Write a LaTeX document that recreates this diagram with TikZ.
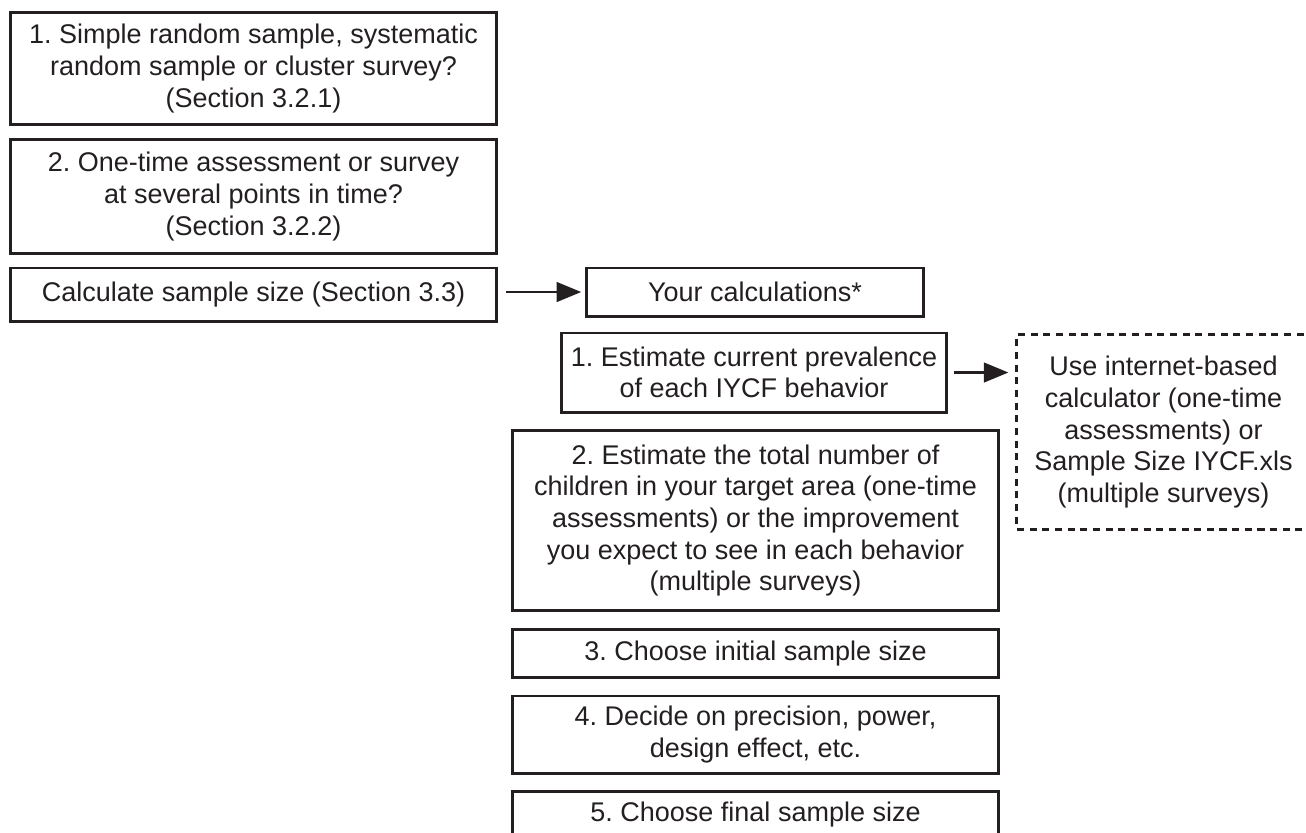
\documentclass[tikz,border=0pt]{standalone}
\usepackage{fontspec}
\setmainfont{Liberation Sans}
\usetikzlibrary{arrows.meta}

\definecolor{ink}{HTML}{231F20}

\tikzset{
	box/.style={draw=ink, line width=0.85pt, rectangle, inner sep=0pt, align=center,
		text=ink, font=\fontsize{7.68pt}{8.96pt}\selectfont\frenchspacing},
	dashbox/.style={box, dash pattern=on 2pt off 1.6pt},
	arr/.style={draw=ink, line width=0.7pt, -{Triangle[length=7pt, width=5.6pt]}}
}

\begin{document}
\begin{tikzpicture}[x=0.01cm, y=-0.01cm]
			\useasboundingbox (0,0) rectangle (1306,832);
			\clip (0,0) rectangle (1306,832);
			
			% left column
			\node[box, minimum width=48.5mm, minimum height=11.1mm] (b1) at (253.5,68.5)
			{1. Simple random sample, systematic\\ random sample or cluster survey?\\ (Section 3.2.1)};
			\node[box, minimum width=48.5mm, minimum height=11.3mm] (b2) at (253.5,196.5)
			{2. One-time assessment or survey\\ at several points in time?\\ (Section 3.2.2)};
			\node[box, minimum width=48.5mm, minimum height=5.3mm] (b3) at (253.5,294.5)
			{Calculate sample size (Section 3.3)};
			
			% calculations
			\node[box, minimum width=33.6mm, minimum height=4.8mm] (calc) at (755,292) {Your calculations*};
			\node[box, minimum width=38.4mm, minimum height=7.9mm] (s1) at (754,372.5)
			{1. Estimate current prevalence\\ of each IYCF behavior};
			\node[dashbox, minimum width=29.3mm, minimum height=19.4mm] (tool) at (1163.5,432)
			{Use internet-based\\ calculator (one-time\\ assessments) or\\ Sample Size IYCF.xls\\ (multiple surveys)};
			\node[box, minimum width=48.5mm, minimum height=17.9mm] (s2) at (755.5,520.5)
			{2. Estimate the total number of\\ children in your target area (one-time\\ assessments) or the improvement\\ you expect to see in each behavior\\ (multiple surveys)};
			\node[box, minimum width=48.5mm, minimum height=4.8mm] (s3) at (755.5,653) {3. Choose initial sample size};
			\node[box, minimum width=48.5mm, minimum height=7.7mm] (s4) at (755.5,734.5)
			{4. Decide on precision, power,\\ design effect, etc.};
			\node[box, minimum width=48.5mm, minimum height=4.6mm] (s5) at (755.5,814) {5. Choose final sample size};
			
			\draw[arr, shorten <=2.5pt, shorten >=1.2pt] (b3.east |- calc.west) -- (calc.west);
			\draw[arr, shorten <=1.7pt, shorten >=2pt] (s1.east) -- (s1.east -| tool.west);
			
		\end{tikzpicture}
\end{document}
